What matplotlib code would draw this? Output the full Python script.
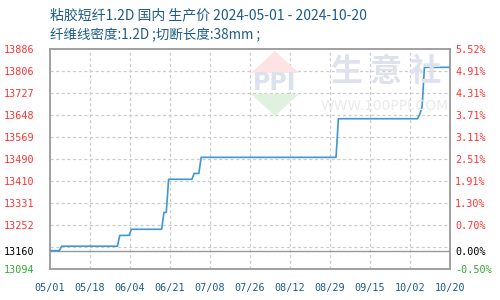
import matplotlib
matplotlib.use("Agg")
import matplotlib.pyplot as plt
import matplotlib.dates as mdates
from matplotlib.patches import Polygon
import numpy as np
import pandas as pd

# ---------------- data ----------------
dates = ["2024-05-01", "2024-05-05", "2024-05-06", "2024-05-30", "2024-05-31",
         "2024-06-04", "2024-06-05", "2024-06-18", "2024-06-19", "2024-06-20",
         "2024-06-21", "2024-07-01", "2024-07-02", "2024-07-04", "2024-07-05",
         "2024-09-01", "2024-09-02", "2024-10-06", "2024-10-07", "2024-10-08",
         "2024-10-09", "2024-10-20"]
prices = [13160, 13160, 13176, 13176, 13215,
          13215, 13237, 13237, 13298, 13298,
          13417, 13417, 13438, 13438, 13496,
          13496, 13635, 13635, 13651, 13678,
          13820, 13820]

base_price = 13160
y_min, y_max = 13094, 13886
left_labels = ["13886", "13806", "13727", "13648", "13569", "13490",
               "13410", "13331", "13252", "13160", "13094"]
right_labels = ["5.52%", "4.91%", "4.31%", "3.71%", "3.11%", "2.51%",
                "1.91%", "1.30%", "0.70%", "0.00%", "-0.50%"]
x_labels = ["05/01", "05/18", "06/04", "06/21", "07/08", "07/26",
            "08/12", "08/29", "09/15", "10/02", "10/20"]
title = "粘胶短纤1.2D 国内 生产价 2024-05-01 - 2024-10-20"
subtitle = "纤维线密度:1.2D ;切断长度:38mm ;"

# ---------------- style ----------------
plt.rcParams['font.family'] = ['Noto Sans CJK SC', 'DejaVu Sans']
mono = ['DejaVu Sans Mono']
title_color = "#1d5c87"
line_color = "#3d98d3"
red = "#ff3333"
green = "#33aa33"
spine_color = "#999999"
grid_color = "#cccccc"

fig = plt.figure(figsize=(5, 3), dpi=100)
ax = fig.add_axes([0.1, 1 - 269 / 300, 0.8, 220 / 300])

# watermark (figure coordinates)
def fx(px):
    return px / 500
def fy(py):
    return 1 - py / 300
fig.patches.append(Polygon([(fx(275), fy(51)), (fx(251), fy(73)), (fx(299), fy(73))],
                           closed=True, transform=fig.transFigure,
                           facecolor="#fde3e3", edgecolor="none", zorder=0))
fig.patches.append(Polygon([(fx(251), fy(94)), (fx(299), fy(94)), (fx(275), fy(116))],
                           closed=True, transform=fig.transFigure,
                           facecolor="#e0f1e0", edgecolor="none", zorder=0))
fig.text(fx(275), fy(83.5), "PPI", ha="center", va="center", fontsize=17,
         fontweight="bold", color="#dce1ee", family=['DejaVu Sans'], zorder=0)
fig.text(fx(386), fy(71.5), "生 意 社", ha="center", va="center", fontsize=23,
         fontweight="bold", color="#dfe2ec", zorder=0)
fig.text(fx(385), fy(106), "WWW.100PPI.COM", ha="center", va="center", fontsize=10,
         color="#eaeaea", family=['DejaVu Sans'], zorder=0)
ax.patch.set_alpha(0)

x = pd.to_datetime(dates)
ax.plot(x, prices, color=line_color, lw=1.2, zorder=3)

ax.set_ylim(y_min, y_max)
start = mdates.date2num(pd.Timestamp(dates[0]))
end = mdates.date2num(pd.Timestamp(dates[-1]))
ax.set_xlim(start, end)

# grid
for gy in np.linspace(y_min, y_max, 11)[1:-1]:
    ax.axhline(gy, color=grid_color, lw=0.9, ls=(0, (2.5, 2)), zorder=1)
xt = np.linspace(start, end, len(x_labels))
for gx in xt[1:-1]:
    ax.axvline(gx, color=grid_color, lw=0.9, ls=(0, (2.5, 2)), zorder=1)
ax.axhline(base_price, color=spine_color, lw=1.0, zorder=2)

for s in ax.spines.values():
    s.set_color(spine_color)
    s.set_linewidth(1.3)

ticks = [float(v) for v in left_labels]
ax.set_yticks(ticks)
ax.set_yticklabels(left_labels, family=mono, fontsize=7.3)
ax.tick_params(axis='y', length=0, pad=11.5)
for lab, txt in zip(ax.get_yticklabels(), left_labels):
    v = float(txt)
    lab.set_color("black" if v == base_price else (green if v < base_price else red))

ax.set_xticks(xt)
ax.set_xticklabels(x_labels, family=mono, fontsize=7.3, color=title_color)
ax.tick_params(axis='x', length=0, pad=10)

ax2 = ax.twinx()
ax2.set_ylim(y_min, y_max)
ax2.set_yticks(ticks)
ax2.set_yticklabels(right_labels, family=mono, fontsize=7.3)
ax2.tick_params(axis='y', length=0, pad=3.6)
for lab, txt in zip(ax2.get_yticklabels(), right_labels):
    lab.set_color("black" if txt == "0.00%" else (green if txt.startswith("-") else red))
for s in ax2.spines.values():
    s.set_visible(False)

fig.text(fx(50), fy(15), title, ha="left", va="center", fontsize=10, color=title_color)
fig.text(fx(50), fy(35), subtitle, ha="left", va="center", fontsize=9.7, color=title_color)

fig.savefig("out.png", dpi=100)
